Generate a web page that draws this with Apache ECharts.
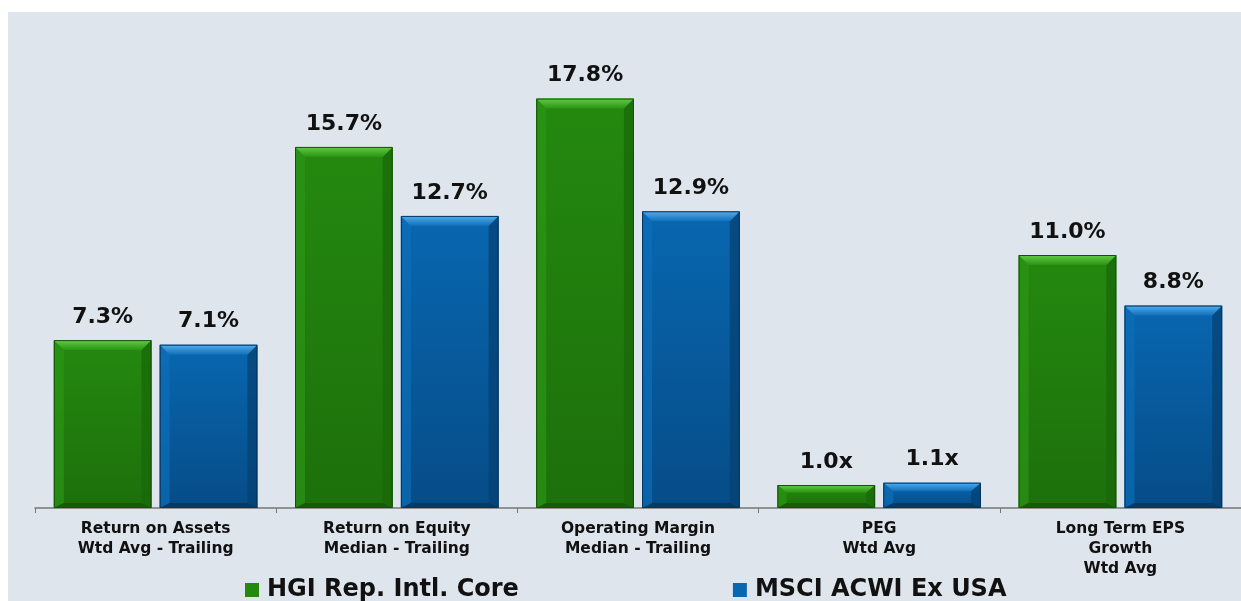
<!DOCTYPE html>
<html>
<head>
<meta charset="utf-8">
<script src="https://cdn.jsdelivr.net/npm/echarts@6/dist/echarts.min.js"></script>
<style>
  html, body { margin: 0; padding: 0; background: #fff; }
  #chart { width: 1241px; height: 601px; }
</style>
</head>
<body>
<div id="chart"></div>
<script>
var categories = [
  'Return on Assets\nWtd Avg - Trailing',
  'Return on Equity\nMedian - Trailing',
  'Operating Margin\nMedian - Trailing',
  'PEG\nWtd Avg',
  'Long Term EPS\nGrowth\nWtd Avg'
];
var units = ['%', '%', '%', 'x', '%'];
var hgiValues = [7.3, 15.7, 17.8, 1.0, 11.0];
var msciValues = [7.1, 12.7, 12.9, 1.1, 8.8];

var greenPal = {
  body: ['#24890f', '#1d700b'],
  top: ['#62cc44', '#2a9314'],
  left: '#2b9515',
  right: '#1a680a',
  bottom: '#165a08',
  edge: '#145207'
};
var bluePal = {
  body: ['#0867b0', '#064c87'],
  top: ['#52aef0', '#116fb8'],
  left: '#0d6eb8',
  right: '#054273',
  bottom: '#033963',
  edge: '#03345a'
};

function makeRender(pal, side) {
  return function (params, api) {
    var cat = api.value(0);
    var val = api.value(1);
    var base = api.coord([cat, 0]);
    var top = api.coord([cat, val]);
    var band = api.size([1, 0])[0];
    var w = band * 0.405;
    var gap = band * 0.034;
    var x0 = side < 0 ? base[0] - gap / 2 - w : base[0] + gap / 2;
    var x1 = x0 + w;
    var y0 = top[1];
    var y1 = base[1];
    var h = y1 - y0;
    var bt = Math.min(10, h / 3);
    var bs = Math.min(10, h / 2.5);
    var bb = Math.min(5, h / 4);
    var text = val.toFixed(1) + units[params.dataIndex];
    return {
      type: 'group',
      children: [
        {
          type: 'rect',
          shape: { x: x0, y: y0, width: w, height: h },
          style: {
            fill: new echarts.graphic.LinearGradient(0, 0, 0, 1, [
              { offset: 0, color: pal.body[0] },
              { offset: 1, color: pal.body[1] }
            ])
          }
        },
        {
          type: 'polygon',
          shape: { points: [[x0, y0], [x0 + bs, y0 + bt], [x0 + bs, y1 - bb], [x0, y1]] },
          style: { fill: pal.left, opacity: 0.7 }
        },
        {
          type: 'polygon',
          shape: { points: [[x1, y0], [x1 - bs, y0 + bt], [x1 - bs, y1 - bb], [x1, y1]] },
          style: { fill: pal.right, opacity: 0.75 }
        },
        {
          type: 'polygon',
          shape: { points: [[x0, y1], [x0 + bs, y1 - bb], [x1 - bs, y1 - bb], [x1, y1]] },
          style: { fill: pal.bottom, opacity: 0.9 }
        },
        {
          type: 'polygon',
          shape: { points: [[x0, y0], [x1, y0], [x1 - bs, y0 + bt], [x0 + bs, y0 + bt]] },
          style: {
            fill: new echarts.graphic.LinearGradient(0, 0, 0, 1, [
              { offset: 0, color: pal.top[0] },
              { offset: 1, color: pal.top[1] }
            ])
          }
        },
        {
          type: 'rect',
          shape: { x: x0 + 0.5, y: y0 + 0.5, width: w - 1, height: h - 1 },
          style: { fill: 'none', stroke: pal.edge, lineWidth: 1 }
        },
        {
          type: 'text',
          style: {
            text: text,
            x: (x0 + x1) / 2,
            y: y0 - 23,
            align: 'center',
            verticalAlign: 'middle',
            fontSize: 22,
            fontWeight: 'bold',
            fontFamily: 'DejaVu Sans',
            fill: '#111'
          }
        }
      ]
    };
  };
}

var chart = echarts.init(document.getElementById('chart'));
chart.setOption({
  animation: false,
  backgroundColor: '#ffffff',
  graphic: [
    {
      type: 'rect',
      left: 8,
      top: 12,
      z: -10,
      silent: true,
      shape: { width: 1233, height: 589 },
      style: { fill: '#dfe5ec' }
    }
  ],
  grid: {
    left: 35,
    top: 48,
    width: 1212,
    height: 460
  },
  legend: {
    left: 240,
    top: 573,
    itemGap: 214,
    itemWidth: 14,
    itemHeight: 14,
    icon: 'rect',
    textStyle: {
      color: '#111',
      fontSize: 24,
      fontWeight: 'bold',
      fontFamily: 'DejaVu Sans',
      padding: [0, 0, 0, 3]
    },
    data: ['HGI Rep. Intl. Core', 'MSCI ACWI Ex USA']
  },
  xAxis: {
    type: 'category',
    data: categories,
    axisLine: {
      lineStyle: { color: '#777', width: 1.5 }
    },
    axisTick: {
      show: true,
      length: 5,
      lineStyle: { color: '#777' }
    },
    axisLabel: {
      color: '#111',
      fontSize: 15.5,
      fontWeight: 'bold',
      fontFamily: 'DejaVu Sans',
      lineHeight: 20,
      margin: 11,
      interval: 0
    }
  },
  yAxis: {
    type: 'value',
    min: 0,
    max: 20,
    show: false,
    splitLine: { show: false }
  },
  series: [
    {
      name: 'HGI Rep. Intl. Core',
      type: 'custom',
      itemStyle: { color: '#24890f' },
      renderItem: makeRender(greenPal, -1),
      data: hgiValues.map(function (v, i) { return [i, v]; })
    },
    {
      name: 'MSCI ACWI Ex USA',
      type: 'custom',
      itemStyle: { color: '#0867b0' },
      renderItem: makeRender(bluePal, 1),
      data: msciValues.map(function (v, i) { return [i, v]; })
    }
  ]
});
</script>
</body>
</html>
